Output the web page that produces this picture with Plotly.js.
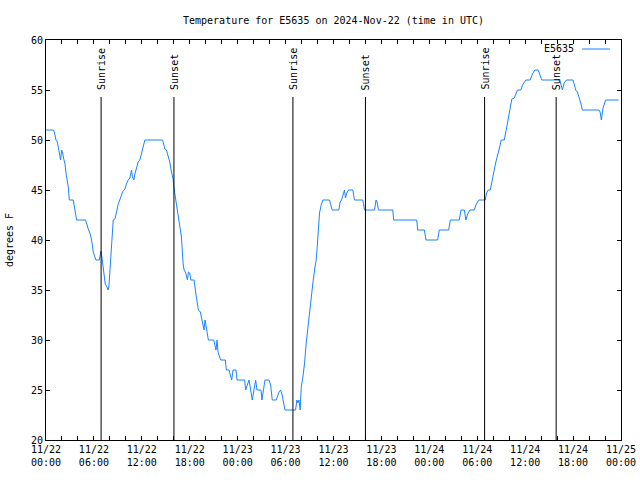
<!DOCTYPE html>
<html>
<head>
<meta charset="utf-8">
<script src="https://cdn.plot.ly/plotly-3.0.1.min.js"></script>
<style>html,body{margin:0;padding:0;background:#fff;}#chart{width:640px;height:480px;}</style>
</head>
<body>
<div id="chart"></div>
<script>
// Hours since 2024-11-22 00:00 UTC
const hours = [0,0.92,1.04,1.25,1.42,1.63,1.83,1.96,2.08,2.25,2.38,2.5,2.67,2.79,2.92,3.42,3.5,3.63,3.83,4.96,5.08,5.29,5.5,5.71,5.92,6.13,6.25,6.67,6.75,6.88,7.0,7.17,7.29,7.42,7.58,7.79,7.88,8.0,8.08,8.21,8.33,8.42,8.63,8.75,8.92,9.04,9.17,9.33,9.58,9.88,10.08,10.29,10.5,10.71,10.83,11.0,11.13,11.33,11.54,11.75,11.96,12.17,12.38,14.58,14.67,14.88,15.08,15.29,15.5,15.71,15.92,16.04,16.17,16.33,16.46,16.58,16.75,16.96,17.17,17.29,17.5,17.58,17.71,17.83,18.0,18.13,18.54,18.79,18.96,19.08,19.33,19.46,19.67,19.79,19.92,20.08,20.21,20.33,21.0,21.17,21.29,21.42,21.54,21.75,21.88,22.46,22.58,22.92,23.08,23.25,23.42,23.79,23.92,24.88,25.0,25.17,25.42,25.63,25.83,26.04,26.25,26.42,26.92,27.04,27.25,27.42,27.92,28.13,28.33,28.83,29.17,29.38,29.58,29.75,29.92,31.25,31.42,31.54,31.67,31.83,31.96,32.17,32.38,32.58,32.79,33.0,33.21,33.42,33.63,33.83,33.96,34.08,34.25,34.46,34.67,35.5,35.71,35.83,36.67,36.83,37.0,37.17,37.38,37.5,37.67,37.88,38.42,38.63,39.67,39.88,41.13,41.33,41.46,41.63,43.42,43.54,46.42,46.54,47.38,47.58,49.04,49.25,50.42,50.63,51.75,51.96,52.38,52.58,52.79,53.08,53.63,53.83,54.17,55.0,55.17,55.38,55.63,55.83,56.04,56.25,56.42,56.54,56.75,57.0,57.38,57.58,57.79,58.0,58.21,58.33,58.63,58.83,59.04,59.46,59.67,60.08,60.63,60.92,61.21,61.63,61.83,62.08,64.33,64.46,64.67,64.88,65.17,66.0,66.21,66.33,66.54,66.75,66.96,67.17,69.25,69.38,69.54,69.75,69.92,70.08,71.7];
const tempF = [51,51,50.8,50,49.8,48.6,48,49,48.7,48,47.6,46.7,46,45.3,44,44,43.6,43.1,42,42,41.6,41.1,40.7,40,38.8,38.3,38,38,38.6,38.9,38.3,37.3,36.6,35.6,35.4,35,35.4,36.8,38.4,40.1,41.5,42,42.1,42.7,43.1,43.6,44,44.2,44.8,45.1,45.6,46,46.2,47,46.3,46,46.6,47.1,47.8,48,48.6,49.3,50,50,49.8,49.1,49,48.4,47.8,46.8,46.1,45.1,44.4,43.4,42.8,42.4,41.6,40.3,37.6,37,36.7,36.3,36,36.8,36.7,36,36,34.5,33.7,33,32.8,32.3,31.5,31,32,31,30.3,30,30,29.2,29,30,28.8,28.3,28,28,27,27,26.5,26,27,27,26,26,25,25.5,26,25,24,25,26,25,25,24,25,26,26,25.5,24,24,24.8,25,24.5,23.7,23,23,24,23.7,24,23,25.3,26.3,27.7,29.7,31.3,32.7,34.3,35.7,37,38,39.3,41.3,42.7,43.5,44,44,43.3,43,43,43.8,44,44.5,45,44.2,44.7,45,45,44,44,43,43,44,43.8,43,43,42,42,41,41,40,40,41,41,42,42,43,43,42,42.6,43,43,43.5,44,44,44.7,45,45,45.8,46.5,47.5,48.1,48.4,49.1,50,50,50.8,51.8,52.7,53.7,54.1,54.2,54.7,55,55,55.5,56,56,56.6,57,57,56.6,56,56,55.7,55,55.7,56,56,55.3,55,54.8,54.3,53.7,53,53,52.8,52,53.2,53.7,54,54];
const sunHours = [6.9,16.02,30.92,40.0,54.92,63.88];
const sunLabels = ["Sunrise","Sunset","Sunrise","Sunset","Sunrise","Sunset"];
const seriesName = "E5635";
const yTicks = [20,25,30,35,40,45,50,55,60];

const base = Date.UTC(2024,10,22,0,0,0);
function toDate(h){ return new Date(base + h*3600000).toISOString().replace('T',' ').slice(0,19); }

const mono = "DejaVu Sans Mono, Liberation Mono, monospace";
const lineColor = "#1a84ff";

const trace = {
  x: hours.map(toDate), y: tempF, type: 'scatter', mode: 'lines',
  name: seriesName, line: {color: lineColor, width: 1}, showlegend: false
};

const shapes = sunHours.map(h => ({
  type: 'line', xref: 'x', yref: 'paper', x0: toDate(h), x1: toDate(h), y0: 0, y1: 0.8575,
  line: {color: '#000', width: 1}
}));
// legend sample line (gnuplot style: text then line)
shapes.push({type:'line', xref:'paper', yref:'paper', x0:(582-46)/575, x1:(610-46)/575, y0:(440-49)/400, y1:(440-49)/400, line:{color:lineColor,width:1}});

const annotations = sunHours.map((h,i) => ({
  x: toDate(h), xref: 'x', y: 0.87, yref: 'paper', text: sunLabels[i], textangle: -90,
  showarrow: false, xanchor: 'center', yanchor: 'bottom', font: {family: mono, size: 10, color: '#000'}
}));
annotations.push({x:(576-46)/575, xref:'paper', y:(440-49)/400, yref:'paper', text: seriesName, showarrow:false, xanchor:'right', yanchor:'middle', font:{family:mono,size:10,color:'#000'}});

const layout = {
  width: 640, height: 480,
  margin: {l: 46, r: 19, t: 40, b: 40},
  paper_bgcolor: '#fff', plot_bgcolor: '#fff',
  font: {family: mono, size: 10, color: '#000'},
  title: {text: 'Temperature for E5635 on 2024-Nov-22 (time in UTC)', x: 0.5, xref: 'paper', xanchor: 'center', y: 1 - 20/480, yanchor: 'middle', font: {family: mono, size: 10, color: '#000'}},
  xaxis: {
    type: 'date', range: [toDate(0), toDate(72)], dtick: 6*3600000, tick0: toDate(0),
    tickformat: '%m/%d<br>%H:%M', ticks: 'inside', ticklen: 4, tickcolor: '#000',
    minor: {dtick: 2*3600000, ticks: 'inside', ticklen: 4, tickcolor: '#000'},
    showline: true, linecolor: '#000', linewidth: 1, mirror: 'allticks', showgrid: false, zeroline: false,
    tickfont: {family: mono, size: 10, color: '#000'}
  },
  yaxis: {
    range: [20, 60], tickvals: yTicks, ticks: 'inside', ticklen: 4, tickcolor: '#000',
    showline: true, linecolor: '#000', linewidth: 1, mirror: 'allticks', showgrid: false, zeroline: false,
    tickfont: {family: mono, size: 10, color: '#000'},
    title: {text: 'degrees F', standoff: 15, font: {family: mono, size: 10, color: '#000'}}
  },
  shapes: shapes, annotations: annotations, showlegend: false
};

Plotly.newPlot('chart', [trace], layout, {staticPlot: true, displayModeBar: false});
</script>
</body>
</html>
